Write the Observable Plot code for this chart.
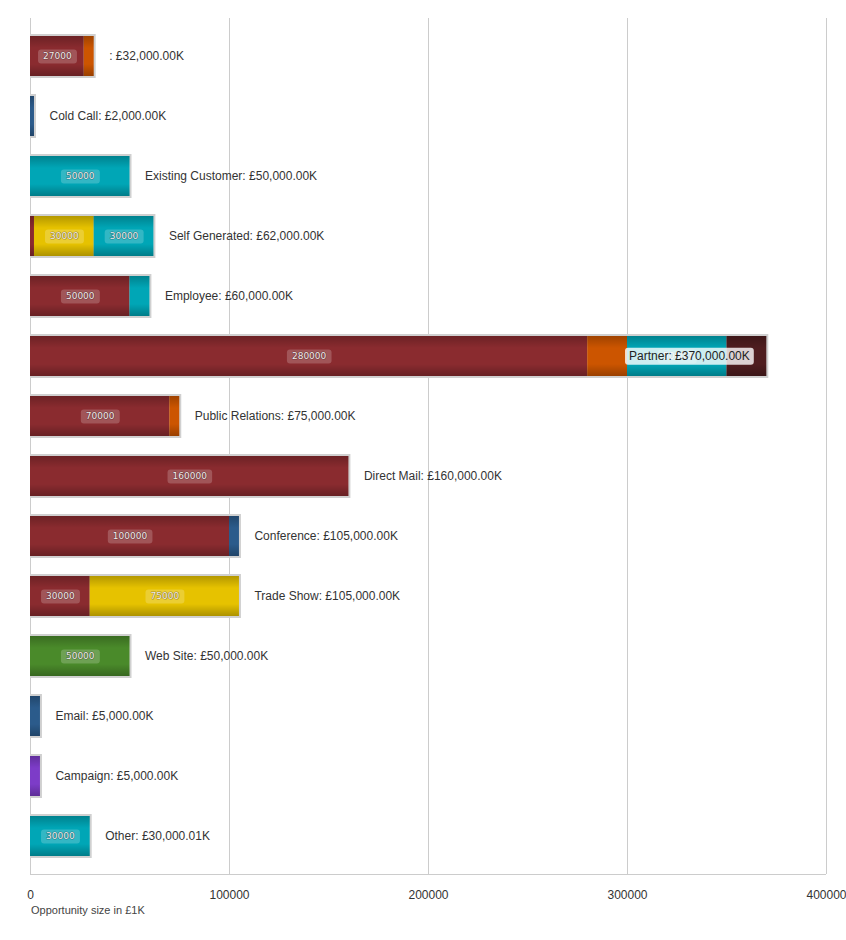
<!DOCTYPE html>
<html>
<head>
<meta charset="utf-8">
<script src="https://cdn.jsdelivr.net/npm/d3@7"></script>
<script src="https://cdn.jsdelivr.net/npm/@observablehq/plot@0.6"></script>
<style>
  html, body { margin: 0; padding: 0; background: #fff; }
  #chart svg { display: block; }
  #caption { font-family: "Liberation Sans", Arial, sans-serif; font-size: 11px; line-height: 14px; color: #444; margin: 1px 0 0 31px; }
</style>
</head>
<body>
<div id="chart"></div>
<div id="caption">Opportunity size in £1K</div>
<script>
// Lead sources (rows, top to bottom)
const categories = ["", "Cold Call", "Existing Customer", "Self Generated", "Employee", "Partner",
  "Public Relations", "Direct Mail", "Conference", "Trade Show", "Web Site", "Email", "Campaign", "Other"];
// Row totals (in £1K)
const totals = [32000, 2000, 50000, 62000, 60000, 370000, 75000, 160000, 105000, 105000, 50000, 5000, 5000, 30000.01];

// Stacked series (one value per row), in stacking order
const seriesNames = ["Series 1", "Series 2", "Series 3", "Series 4", "Series 5", "Series 6", "Series 7", "Series 8"];
const seriesColors = ["#8a2b2f", "#cc5500", "#e6c200", "#00a6b6", "#4f1d1f", "#2b5b8b", "#4a8a2a", "#7d3cc8"];
const series1 = [27000, 0, 0, 2000, 50000, 280000, 70000, 160000, 100000, 30000, 0, 0, 0, 0];
const series2 = [5000, 0, 0, 0, 0, 20000, 5000, 0, 0, 0, 0, 0, 0, 0];
const series3 = [0, 0, 0, 30000, 0, 0, 0, 0, 0, 75000, 0, 0, 0, 0];
const series4 = [0, 0, 50000, 30000, 10000, 50000, 0, 0, 0, 0, 0, 0, 0, 30000.01];
const series5 = [0, 0, 0, 0, 0, 20000, 0, 0, 0, 0, 0, 0, 0, 0];
const series6 = [0, 2000, 0, 0, 0, 0, 0, 0, 5000, 0, 0, 5000, 0, 0];
const series7 = [0, 0, 0, 0, 0, 0, 0, 0, 0, 0, 50000, 0, 0, 0];
const series8 = [0, 0, 0, 0, 0, 0, 0, 0, 0, 0, 0, 0, 5000, 0];
const xTicks = [0, 100000, 200000, 300000, 400000];

const seriesValues = [series1, series2, series3, series4, series5, series6, series7, series8];
const rows = [];
seriesNames.forEach((name, si) => {
  seriesValues[si].forEach((v, ci) => {
    if (v > 0) rows.push({category: categories[ci], series: name, value: v});
  });
});
const fmt = d3.format(",.2f");
const totalRows = categories.map((c, i) => ({category: c, total: totals[i], label: `${c}: £${fmt(totals[i])}K`}));
const insideLimit = 300000;

const defs = () => {
  const g = d3.create("svg:defs");
  const lg = g.append("linearGradient").attr("id", "shade").attr("x1", 0).attr("y1", 0).attr("x2", 0).attr("y2", 1);
  [[0, 0.22], [0.3, 0], [0.7, 0], [1, 0.25]].forEach(([o, a]) =>
    lg.append("stop").attr("offset", o).attr("stop-color", "#000").attr("stop-opacity", a));
  return g.node();
};

const bottomLine = (index, scales, values, dimensions) => {
  const {width, height, marginLeft, marginRight, marginBottom} = dimensions;
  const y = height - marginBottom + 0.5;
  return d3.create("svg:line")
    .attr("x1", marginLeft).attr("x2", width - marginRight)
    .attr("y1", y).attr("y2", y)
    .attr("stroke", "#ccc").node();
};

const chart = Plot.plot({
  width: 846,
  height: 902,
  marginLeft: 30,
  marginRight: 20,
  marginTop: 18,
  marginBottom: 28,
  style: {fontFamily: "'Liberation Sans', Arial, sans-serif", fontSize: "12px", color: "#333", background: "#fff", overflow: "visible"},
  x: {domain: [0, 400000], ticks: xTicks, tickSize: 0, tickPadding: 16, tickFormat: d => String(d), label: null},
  y: {domain: categories, axis: null, paddingInner: 1 / 3, paddingOuter: 0.295},
  color: {domain: seriesNames, range: seriesColors},
  marks: [
    defs,
    Plot.ruleX(xTicks.slice(1), {stroke: "#ccc", strokeOpacity: 1}),
    Plot.ruleX([0], {stroke: "#ccc", strokeOpacity: 1}),
    bottomLine,
    Plot.barX(totalRows, {x: "total", y: "category", fill: "#d0d0d0", insetTop: -2, insetBottom: -2, insetRight: -2}),
    Plot.barX(rows, {x: "value", y: "category", fill: "series"}),
    Plot.barX(totalRows, {x: "total", y: "category", fill: "url(#shade)"}),
    Plot.text(rows, Plot.stackX({
      x: "value", y: "category", z: "series",
      text: d => d.value >= 25000 ? String(Math.round(d.value)) : null,
      fontFamily: "'DejaVu Sans', Verdana, sans-serif", fontSize: 9,
      fill: "#f0eaea", stroke: "rgba(0,0,0,0.35)", strokeWidth: 1.2,
      ariaDescription: "seg-labels"
    })),
    Plot.text(totalRows.filter(d => d.total < insideLimit), {
      x: "total", y: "category", text: "label", textAnchor: "start", dx: 15, fill: "#333", fontSize: 12,
      ariaDescription: "total-labels"
    }),
    Plot.text(totalRows.filter(d => d.total >= insideLimit), {
      x: "total", y: "category", text: "label", textAnchor: "end", dx: -17, fill: "#222", fontSize: 12,
      ariaDescription: "inside-label"
    })
  ]
});

document.getElementById("chart").appendChild(chart);

function addBoxes(desc, padX, padY, fill) {
  let groups = chart.querySelectorAll(`g[aria-description="${desc}"]`);
  groups.forEach(g => {
    g.querySelectorAll("text").forEach(t => {
      const b = t.getBBox();
      const r = document.createElementNS("http://www.w3.org/2000/svg", "rect");
      r.setAttribute("x", b.x - padX);
      r.setAttribute("y", b.y - padY);
      r.setAttribute("width", b.width + 2 * padX);
      r.setAttribute("height", b.height + 2 * padY);
      r.setAttribute("rx", 3);
      r.setAttribute("fill", fill);
      r.setAttribute("stroke", "none");
      r.setAttribute("stroke-width", 0);
      if (t.getAttribute("transform")) r.setAttribute("transform", t.getAttribute("transform"));
      t.parentNode.insertBefore(r, t);
    });
  });
}
addBoxes("seg-labels", 5, 2, "rgba(255,255,255,0.2)");
addBoxes("inside-label", 4, 1.5, "rgba(255,255,255,0.8)");
</script>
</body>
</html>
